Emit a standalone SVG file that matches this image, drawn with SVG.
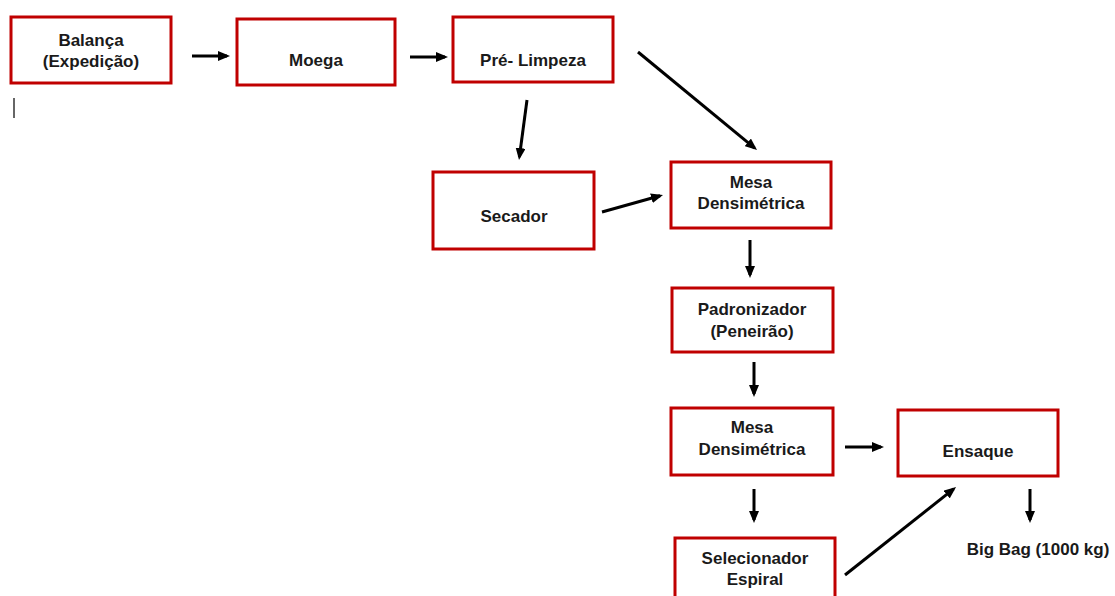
<svg xmlns="http://www.w3.org/2000/svg" width="1115" height="596" viewBox="0 0 1115 596">
<defs>
<marker id="ah" viewBox="0 0 12 10" markerWidth="12" markerHeight="10" refX="9" refY="5" orient="auto" markerUnits="userSpaceOnUse">
<path d="M0,0 L12,5 L0,10 z" fill="#000"/>
</marker>
<style>
.box{fill:#fff;stroke:#c00000;stroke-width:3}
.t{font-family:"Liberation Sans",Arial,sans-serif;font-weight:bold;font-size:17px;fill:#1a1a1a;text-anchor:middle}
.c{stroke:#000;stroke-width:3;fill:none;marker-end:url(#ah)}
</style>
</defs>
<rect width="1115" height="596" fill="#fff"/>
<line x1="14" y1="98" x2="14" y2="118" stroke="#333" stroke-width="1.5"/>
<g id="balanca"><rect class="box" x="11" y="17" width="160" height="66"/><text class="t" x="91" y="46">Balança</text><text class="t" x="91" y="67">(Expedição)</text></g>
<g id="moega"><rect class="box" x="237" y="19" width="158" height="66"/><text class="t" x="316" y="66">Moega</text></g>
<g id="prelimpeza"><rect class="box" x="453" y="17" width="160" height="65"/><text class="t" x="533" y="66">Pré- Limpeza</text></g>
<g id="secador"><rect class="box" x="433" y="172" width="161" height="77"/><text class="t" x="514" y="222">Secador</text></g>
<g id="mesa1"><rect class="box" x="671" y="162" width="160" height="66"/><text class="t" x="751" y="188">Mesa</text><text class="t" x="751" y="209">Densimétrica</text></g>
<g id="padronizador"><rect class="box" x="672" y="288" width="161" height="64"/><text class="t" x="752" y="315">Padronizador</text><text class="t" x="752" y="337">(Peneirão)</text></g>
<g id="mesa2"><rect class="box" x="671" y="408" width="162" height="67"/><text class="t" x="752" y="433">Mesa</text><text class="t" x="752" y="455">Densimétrica</text></g>
<g id="ensaque"><rect class="box" x="898" y="410" width="160" height="66"/><text class="t" x="978" y="457">Ensaque</text></g>
<g id="selecionador"><rect class="box" x="675" y="538" width="160" height="70"/><text class="t" x="755" y="564">Selecionador</text><text class="t" x="755" y="585">Espiral</text></g>
<g id="bigbag"><text class="t" x="1038" y="555">Big Bag (1000 kg)</text></g>
<g id="connectors">
<line class="c" x1="192" y1="56" x2="227" y2="56"/>
<line class="c" x1="410" y1="57" x2="445" y2="57"/>
<line class="c" x1="638" y1="52" x2="754.7" y2="148.1"/>
<line class="c" x1="527" y1="100" x2="519.4" y2="157"/>
<line class="c" x1="602" y1="212" x2="660.1" y2="195.8"/>
<line class="c" x1="750" y1="240" x2="750" y2="275"/>
<line class="c" x1="754" y1="362" x2="754" y2="394"/>
<line class="c" x1="845" y1="447" x2="881" y2="447"/>
<line class="c" x1="754" y1="489" x2="754" y2="520"/>
<line class="c" x1="845" y1="575" x2="953.7" y2="488.9"/>
<line class="c" x1="1030" y1="489" x2="1030" y2="520"/>
</g>
</svg>
